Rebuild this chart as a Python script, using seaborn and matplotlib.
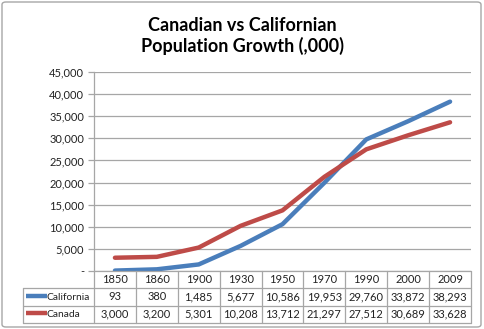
import matplotlib
matplotlib.use("Agg")
import matplotlib.pyplot as plt
from matplotlib.patches import FancyBboxPatch
from matplotlib.ticker import FuncFormatter, MultipleLocator
import seaborn as sns
import pandas as pd
import numpy as np

years = ["1850", "1860", "1900", "1930", "1950", "1970", "1990", "2000", "2009"]
california = [93, 380, 1485, 5677, 10586, 19953, 29760, 33872, 38293]
canada = [3000, 3200, 5301, 10208, 13712, 21297, 27512, 30689, 33628]
series_names = ["California", "Canada"]
colors = {"California": "#4A7EBB", "Canada": "#BE4B48"}
title = "Canadian vs Californian\nPopulation Growth (,000)"

W, H = 485, 329
sns.set_style("white")
plt.rcParams["font.family"] = ["Lato", "DejaVu Sans"]

fig = plt.figure(figsize=(W / 100, H / 100), dpi=100)

def fx(px):
    return px / W

def fy(py):
    return 1 - py / H

# outer frame
frame = FancyBboxPatch((fx(2), fy(327)), fx(479), (325) / H,
                       boxstyle="round,pad=0,rounding_size=0.008",
                       transform=fig.transFigure, fill=False,
                       edgecolor="#A6A6A6", linewidth=1.0)
fig.patches.append(frame)

# main plot axes
L, R, T, B = 94, 471, 72, 271
ax = fig.add_axes([fx(L), fy(B), fx(R - L), (B - T) / H])

df = pd.DataFrame({
    "pos": list(range(len(years))) * 2,
    "value": california + canada,
    "series": [series_names[0]] * len(years) + [series_names[1]] * len(years),
})
sns.lineplot(data=df, x="pos", y="value", hue="series", palette=colors,
             linewidth=3.2, legend=False, ax=ax, sort=False,
             solid_capstyle="round")

ax.set_xlim(-0.5, len(years) - 0.5)
ax.set_ylim(0, 45000)
ax.yaxis.set_major_locator(MultipleLocator(5000))
ax.yaxis.set_major_formatter(FuncFormatter(lambda v, p: "-" if v == 0 else f"{int(v):,}"))
ax.set_xticks([])
ax.set_xlabel("")
ax.set_ylabel("")
ax.grid(axis="y", color="#A6A6A6", linewidth=0.9)
ax.set_axisbelow(True)
for s in ["top", "right", "bottom"]:
    ax.spines[s].set_visible(False)
ax.spines["left"].set_color("#A6A6A6")
ax.spines["left"].set_linewidth(0.9)
ax.tick_params(axis="y", length=4, width=0.9, color="#A6A6A6", direction="out",
               labelsize=8, labelcolor="#222222", pad=3, left=True)

# table axes
TL, TT, TB = 23, 271, 323
colw = (R - L) / len(years)
x0 = -0.5 - (L - TL) / colw
tax = fig.add_axes([fx(TL), fy(TB), fx(R - TL), (TB - TT) / H])
tax.set_xlim(x0, len(years) - 0.5)
tax.set_ylim(3, 0)
tax.axis("off")
gc = "#A6A6A6"
lw = 0.9
# horizontal lines
tax.plot([-0.5, len(years) - 0.5], [0, 0], color=gc, lw=lw, clip_on=False)
for r in [1, 2, 3]:
    tax.plot([x0, len(years) - 0.5], [r, r], color=gc, lw=lw, clip_on=False)
# vertical lines
tax.plot([x0, x0], [1, 3], color=gc, lw=lw, clip_on=False)
for k in range(len(years) + 1):
    xv = -0.5 + k
    tax.plot([xv, xv], [0, 3], color=gc, lw=lw, clip_on=False)

fs = 8
for i, yr in enumerate(years):
    tax.text(i, 0.5, yr, ha="center", va="center", fontsize=fs, color="#222222")
for r, (name, vals) in enumerate(zip(series_names, [california, canada]), start=1):
    tax.plot([x0 + 0.07, x0 + 0.58], [r + 0.45, r + 0.45], color=colors[name],
             lw=3.2, solid_capstyle="butt", clip_on=False)
    tax.text(x0 + 0.57, r + 0.5, name, ha="left", va="center", fontsize=7.4, color="#222222")
    for i, v in enumerate(vals):
        tax.text(i, r + 0.5, f"{v:,}", ha="center", va="center", fontsize=fs, color="#222222")

fig.text(0.5, fy(36), title, ha="center", va="center", fontsize=13,
         fontweight="bold", linespacing=1.15, color="#000000")

fig.savefig("out.png", dpi=100)
